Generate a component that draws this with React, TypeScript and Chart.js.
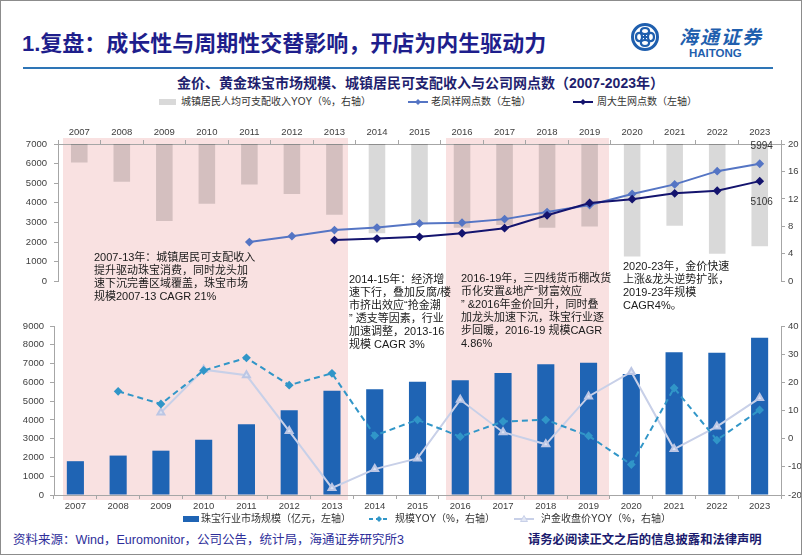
import React, { useEffect, useRef } from 'react';
import { Chart, registerables } from 'chart.js';

Chart.register(...registerables);

// ---------- data ----------
const years = ['2007', '2008', '2009', '2010', '2011', '2012', '2013', '2014', '2015', '2016', '2017', '2018', '2019', '2020', '2021', '2022', '2023'];

// top chart
const incomeYoy = [17.3, 14.5, 8.8, 11.3, 14.1, 12.7, 9.7, 7.0, 8.3, 7.8, 8.2, 7.8, 8.0, 3.6, 8.1, 4.0, 5.1];
const laoFengXiang = [null, null, null, null, 2000, 2300, 2610, 2740, 2950, 2990, 3170, 3530, 3890, 4450, 4940, 5616, 5994];
const chowTaiSeng = [null, null, null, null, null, null, 2100, 2180, 2266, 2448, 2709, 3365, 3990, 4187, 4483, 4616, 5106];
const incomeAxisMax = 20;

// bottom chart
const marketSize = [1800, 2100, 2360, 2945, 3764, 4510, 5554, 5628, 6033, 6108, 6496, 6959, 7045, 6443, 7598, 7580, 8376];
const sizeYoy = [null, 16.8, 12.3, 24.2, 28.7, 19.0, 23.2, 1.1, 6.7, 0.7, 6.1, 6.7, 1.0, -9.2, 18.0, -0.5, 10.2];
const goldYoy = [null, null, 9.3, 24.5, 22.5, 2.7, -17.5, -10.8, -7.0, 13.8, 2.3, -2.0, 15.0, 23.7, -3.7, 4.3, 14.4];

// ---------- styles ----------
const LATIN = "'Liberation Sans', Arial, 'Noto Sans CJK SC', sans-serif";
const AXIS = '#A6A6A6';
const TICK = '#404040';
const plain = (v: any) => String(v);

const endLabels = {
  id: 'endLabels',
  afterDatasetsDraw(chart: any) {
    const ctx = chart.ctx;
    ctx.save();
    ctx.font = `10px ${LATIN}`;
    ctx.fillStyle = '#333';
    ctx.textAlign = 'center';
    ctx.textBaseline = 'middle';
    const draw = (dsIndex: number, dy: number) => {
      const meta = chart.getDatasetMeta(dsIndex);
      const i = meta.data.length - 1;
      const pt = meta.data[i];
      const v = chart.data.datasets[dsIndex].data[i];
      if (pt && v != null) ctx.fillText(String(v), pt.x + 2, pt.y + dy);
    };
    draw(1, -17);
    draw(0, 21);
    ctx.restore();
  },
};

function TopChart() {
  const ref = useRef<HTMLCanvasElement>(null);
  useEffect(() => {
    const chart = new Chart(ref.current as HTMLCanvasElement, {
      type: 'bar',
      data: {
        labels: years,
        datasets: [
          {
            type: 'line',
            label: '周大生网点数（左轴）',
            data: chowTaiSeng as any,
            yAxisID: 'y',
            borderColor: '#14146E',
            backgroundColor: '#14146E',
            borderWidth: 2,
            pointStyle: 'rectRot',
            pointRadius: 3,
            order: 0,
          } as any,
          {
            type: 'line',
            label: '老凤祥网点数（左轴）',
            data: laoFengXiang as any,
            yAxisID: 'y',
            borderColor: '#5575C4',
            backgroundColor: '#5575C4',
            borderWidth: 2,
            pointStyle: 'rectRot',
            pointRadius: 3,
            order: 1,
          } as any,
          {
            type: 'bar',
            label: '城镇居民人均可支配收入YOY（%，右轴）',
            data: incomeYoy.map((v) => [v, incomeAxisMax]) as any,
            yAxisID: 'y1',
            backgroundColor: 'rgba(0,0,0,0.15)',
            barPercentage: 0.39,
            categoryPercentage: 1,
            order: 2,
          } as any,
        ],
      },
      options: {
        responsive: false,
        animation: false,
        layout: { padding: { top: 0, left: 0, right: 0, bottom: 8 } },
        plugins: { legend: { display: false }, tooltip: { enabled: false } },
        scales: {
          x: {
            position: 'top',
            grid: { offset: true, drawOnChartArea: false, tickLength: 4, color: AXIS },
            border: { color: AXIS },
            ticks: { font: { family: LATIN, size: 9.5 }, color: TICK, padding: 2, maxRotation: 0 },
            afterFit: (s: any) => { s.height = 33; },
          },
          y: {
            position: 'left',
            min: 0,
            max: 7000,
            ticks: { stepSize: 1000, font: { family: LATIN, size: 9.5 }, color: TICK, padding: 7, callback: plain },
            grid: { drawOnChartArea: false, tickLength: 4, color: AXIS },
            border: { color: AXIS },
            afterFit: (s: any) => { s.width = 57; },
          },
          y1: {
            position: 'right',
            min: 0,
            max: incomeAxisMax,
            ticks: { stepSize: 2, font: { family: LATIN, size: 9.5 }, color: TICK, padding: 3, callback: plain },
            grid: { drawOnChartArea: false, tickLength: 4, color: AXIS },
            border: { color: AXIS },
            afterFit: (s: any) => { s.width = 22; },
          },
        },
      } as any,
      plugins: [endLabels],
    });
    return () => chart.destroy();
  }, []);
  return <canvas ref={ref} width={802} height={183} style={{ position: 'absolute', left: 0, top: 110, width: 802, height: 183 }} />;
}

function BottomChart() {
  const ref = useRef<HTMLCanvasElement>(null);
  useEffect(() => {
    const chart = new Chart(ref.current as HTMLCanvasElement, {
      type: 'bar',
      data: {
        labels: years,
        datasets: [
          {
            type: 'line',
            label: '规模YOY（%，右轴）',
            data: sizeYoy as any,
            yAxisID: 'y1',
            borderColor: '#3196C8',
            backgroundColor: '#3196C8',
            borderWidth: 2,
            borderDash: [6, 4],
            pointStyle: 'rectRot',
            pointRadius: 3,
            order: 0,
          } as any,
          {
            type: 'line',
            label: '沪金收盘价YOY（%，右轴）',
            data: goldYoy as any,
            yAxisID: 'y1',
            borderColor: '#C8D0E8',
            backgroundColor: '#DCE2F2',
            pointBorderColor: '#BCC6E4',
            borderWidth: 2,
            pointStyle: 'triangle',
            pointRadius: 4,
            order: 1,
          } as any,
          {
            type: 'bar',
            label: '珠宝行业市场规模（亿元，左轴）',
            data: marketSize,
            yAxisID: 'y',
            backgroundColor: '#1F64B4',
            barPercentage: 0.4,
            categoryPercentage: 1,
            order: 2,
          } as any,
        ],
      },
      options: {
        responsive: false,
        animation: false,
        layout: { padding: { top: 15, left: 0, right: 0, bottom: 0 } },
        plugins: { legend: { display: false }, tooltip: { enabled: false } },
        scales: {
          x: {
            position: 'bottom',
            grid: { offset: true, drawOnChartArea: false, tickLength: 4, color: AXIS },
            border: { color: AXIS },
            ticks: { font: { family: LATIN, size: 9.5 }, color: TICK, padding: 2, maxRotation: 0 },
            afterFit: (s: any) => { s.height = 20; },
          },
          y: {
            position: 'left',
            min: 0,
            max: 9000,
            ticks: { stepSize: 1000, font: { family: LATIN, size: 9.5 }, color: TICK, padding: 6, callback: plain },
            grid: { drawOnChartArea: false, tickLength: 4, color: AXIS },
            border: { color: AXIS },
            afterFit: (s: any) => { s.width = 53; },
          },
          y1: {
            position: 'right',
            min: -20,
            max: 40,
            ticks: { stepSize: 10, font: { family: LATIN, size: 9.5 }, color: TICK, padding: 3, callback: plain },
            grid: { drawOnChartArea: false, tickLength: 4, color: AXIS },
            border: { color: AXIS },
            afterFit: (s: any) => { s.width = 22; },
          },
        },
      } as any,
    });
    return () => chart.destroy();
  }, []);
  return <canvas ref={ref} width={802} height={204} style={{ position: 'absolute', left: 0, top: 310, width: 802, height: 204 }} />;
}

const abs = (left: number, top: number, extra: React.CSSProperties = {}): React.CSSProperties => ({
  position: 'absolute', left, top, ...extra,
});

const legendText: React.CSSProperties = {
  fontFamily: LATIN, fontSize: 10, color: '#333', whiteSpace: 'nowrap', lineHeight: '12px',
};

const noteStyle: React.CSSProperties = {
  fontFamily: LATIN, fontSize: 11, color: '#1a1a1a', whiteSpace: 'pre', lineHeight: '13px',
};

function LineMarker({ color, dashed, shape }: { color: string; dashed?: boolean; shape: 'diamond' | 'triangle' }) {
  return (
    <svg width="22" height="10" style={{ display: 'block' }}>
      <line x1="1" y1="5" x2="21" y2="5" stroke={color} strokeWidth="2" strokeDasharray={dashed ? '4 3' : undefined} />
      {shape === 'diamond' ? (
        <polygon points="11,2 14,5 11,8 8,5" fill={color} />
      ) : (
        <polygon points="11,1.5 14.5,7.5 7.5,7.5" fill="#E2E7F4" stroke={color} strokeWidth="1" />
      )}
    </svg>
  );
}

function Logo() {
  return (
    <div style={abs(628, 20, { width: 150, height: 40 })}>
      <svg width="30" height="30" style={{ position: 'absolute', left: 1, top: 1 }} viewBox="0 0 30 30">
        <circle cx="15" cy="15" r="12.5" fill="none" stroke="#1F5FAE" strokeWidth="3" />
        <path d="M15 6 C10 6 9 12 15 12 C21 12 20 6 15 6" fill="none" stroke="#1F5FAE" strokeWidth="2.2" />
        <path d="M15 24 C10 24 9 18 15 18 C21 18 20 24 15 24" fill="none" stroke="#1F5FAE" strokeWidth="2.2" />
        <path d="M6 15 C6 10 12 9 12 15 C12 21 6 20 6 15" fill="none" stroke="#1F5FAE" strokeWidth="2.2" />
        <path d="M24 15 C24 10 18 9 18 15 C18 21 24 20 24 15" fill="none" stroke="#1F5FAE" strokeWidth="2.2" />
        <line x1="15" y1="12" x2="15" y2="18" stroke="#1F5FAE" strokeWidth="2" />
        <line x1="12" y1="15" x2="18" y2="15" stroke="#1F5FAE" strokeWidth="2" />
      </svg>
      <div style={abs(50, 4, { fontFamily: "'Noto Sans CJK SC', sans-serif", fontSize: 19, fontWeight: 700, fontStyle: 'italic', color: '#1F5FAE', lineHeight: '22px', letterSpacing: 2, whiteSpace: 'nowrap' })}>海通证券</div>
      <div style={abs(60, 26, { fontFamily: LATIN, fontSize: 11.5, fontWeight: 700, color: '#1F5FAE', lineHeight: '12px', whiteSpace: 'nowrap' })}>HAITONG</div>
    </div>
  );
}

export default function App() {
  useEffect(() => {
    document.body.style.margin = '0';
  }, []);
  return (
    <div style={{ position: 'relative', width: 802, height: 555, boxSizing: 'border-box', border: '1px solid #8C8C8C', background: '#fff', overflow: 'hidden' }}>
      {/* shaded periods */}
      <div style={abs(62, 137, { width: 285, height: 362, background: '#F9E1E1' })} />
      <div style={abs(445, 137, { width: 163, height: 362, background: '#F9E1E1' })} />

      {/* title */}
      <div style={abs(21, 29, { fontFamily: LATIN, fontSize: 22, fontWeight: 700, color: '#1E1E8C', lineHeight: '28px', whiteSpace: 'nowrap' })}>
        1.复盘：成长性与周期性交替影响，开店为内生驱动力
      </div>
      <Logo />
      <div style={abs(22, 66, { width: 750, height: 2, background: '#2E75B6' })} />

      {/* subtitle */}
      <div style={abs(176, 73, { fontFamily: LATIN, fontSize: 14, fontWeight: 700, color: '#1F1F6E', lineHeight: '18px', whiteSpace: 'nowrap' })}>
        金价、黄金珠宝市场规模、城镇居民可支配收入与公司网点数（2007-2023年）
      </div>

      {/* top legend */}
      <div style={abs(158, 98, { width: 17, height: 6, background: '#D9D9D9' })} />
      <div style={abs(180, 95, legendText)}>城镇居民人均可支配收入YOY（%，右轴）</div>
      <div style={abs(406, 96)}><LineMarker color="#5575C4" shape="diamond" /></div>
      <div style={abs(430, 95, legendText)}>老凤祥网点数（左轴）</div>
      <div style={abs(571, 96)}><LineMarker color="#14146E" shape="diamond" /></div>
      <div style={abs(596, 95, legendText)}>周大生网点数（左轴）</div>

      <TopChart />
      <BottomChart />

      {/* annotations */}
      <div style={abs(93, 250, noteStyle)}>{'2007-13年：城镇居民可支配收入\n提升驱动珠宝消费，同时龙头加\n速下沉完善区域覆盖，珠宝市场\n规模2007-13 CAGR 21%'}</div>
      <div style={abs(348, 272, noteStyle)}>{'2014-15年：经济增\n速下行，叠加反腐/楼\n市挤出效应“抢金潮\n” 透支等因素，行业\n加速调整，2013-16\n规模 CAGR 3%'}</div>
      <div style={abs(460, 271, noteStyle)}>{'2016-19年，三四线货币棚改货\n币化安置&地产“财富效应\n” &2016年金价回升，同时叠\n加龙头加速下沉，珠宝行业逐\n步回暖，2016-19 规模CAGR\n4.86%'}</div>
      <div style={abs(622, 259, noteStyle)}>{'2020-23年，金价快速\n上涨&龙头逆势扩张，\n2019-23年规模\nCAGR4%。'}</div>

      {/* bottom legend */}
      <div style={abs(182, 515, { width: 16, height: 6, background: '#1F64B4' })} />
      <div style={abs(200, 512, legendText)}>珠宝行业市场规模（亿元，左轴）</div>
      <div style={abs(367, 513)}><LineMarker color="#3196C8" dashed shape="diamond" /></div>
      <div style={abs(394, 512, legendText)}>规模YOY（%，右轴）</div>
      <div style={abs(512, 513)}><LineMarker color="#C8D0E8" shape="triangle" /></div>
      <div style={abs(540, 512, legendText)}>沪金收盘价YOY（%，右轴）</div>

      {/* footer */}
      <div style={abs(12, 531, { fontFamily: LATIN, fontSize: 12.5, color: '#2E2E9A', lineHeight: '16px', whiteSpace: 'nowrap' })}>
        资料来源：Wind，Euromonitor，公司公告，统计局，海通证券研究所3
      </div>
      <div style={abs(527, 531, { fontFamily: LATIN, fontSize: 12.3, fontWeight: 700, color: '#1A1A6E', lineHeight: '16px', whiteSpace: 'nowrap' })}>
        请务必阅读正文之后的信息披露和法律声明
      </div>
    </div>
  );
}
